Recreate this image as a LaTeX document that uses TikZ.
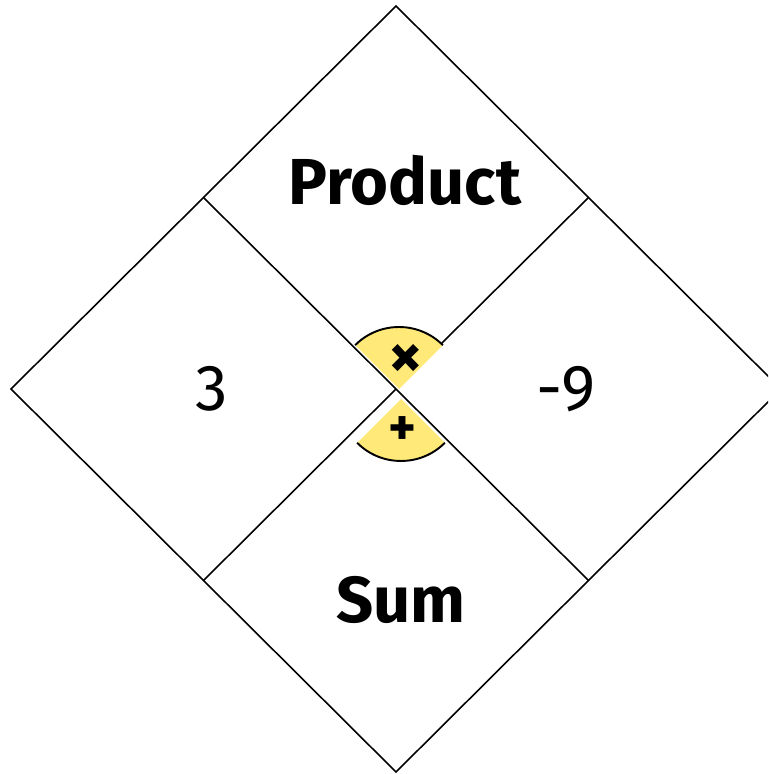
\documentclass[tikz,border=0pt]{standalone}
\usepackage{fontspec}
\setmainfont{Fira Sans}
\usetikzlibrary{calc}
\definecolor{signyellow}{RGB}{255,233,120}
\tikzset{every picture/.style={line width=0.9pt}}
\tikzset{cell/.style={font=\fontsize{37}{40}\selectfont}}
\tikzset{sign/.style={font=\fontsize{30}{32}\selectfont\bfseries}}

\begin{document}
\begin{tikzpicture}[x=0.02cm,y=0.02cm]
    \useasboundingbox (0,0) rectangle (768,774);
    \clip (0,0) rectangle (768,774);
    \coordinate (top) at (396,768);
    \coordinate (left) at (11,385);
    \coordinate (bottom) at (396,2);
    \coordinate (right) at (781,385);
    \coordinate (centre) at (396,385);
    \coordinate (cut) at ($(centre)+(45.3,45.3)$);
    % the two sign sectors
    \fill[signyellow] (399,385) -- +(45:62) arc[start angle=45,end angle=135,radius=62] -- cycle;
    \fill[signyellow] (401,375) -- +(225:62) arc[start angle=225,end angle=315,radius=62] -- cycle;
    \draw[line width=1.1pt] (399,385) ++(45:62) arc[start angle=45,end angle=135,radius=62];
    \draw[line width=1.1pt] (401,375) ++(225:62) arc[start angle=225,end angle=315,radius=62];
    % outline and cross
    \draw (top) -- (right) -- (bottom) -- (left) -- cycle;
    \draw ($(top)!.5!(left)$) -- ($(right)!.5!(bottom)$);
    \draw ($(top)!.5!(right)$) -- (cut);
    \draw ($(left)!.5!(bottom)$) -- (centre);
    \node[cell] (product) at (405,594) {\bfseries Product};
    \node[cell] (sum) at (401,174) {\bfseries Sum};
    \node[cell] (first) at (212,385) {3};
    \node[cell] (second) at (566,385) {-9};
    \node[sign,font=\fontsize{38}{40}\selectfont\bfseries] (times) at (406,413) {×};
    \node[sign] (plus) at (402,343) {+};
\end{tikzpicture}
\end{document}
